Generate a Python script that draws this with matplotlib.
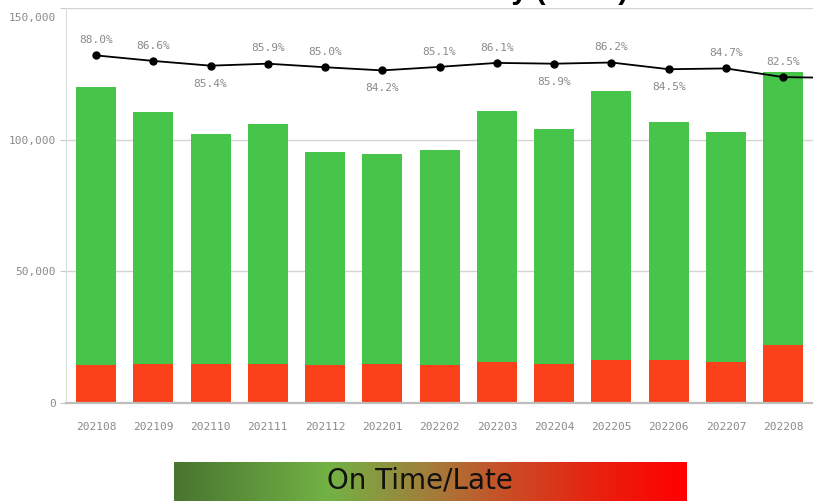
import matplotlib
matplotlib.use("Agg")
import matplotlib.pyplot as plt
import matplotlib.transforms as mtransforms
import numpy as np
from matplotlib.colors import LinearSegmentedColormap

# Monthly delivery counts (on time / late) and on-time rate
months = ["202108", "202109", "202110", "202111", "202112", "202201", "202202",
          "202203", "202204", "202205", "202206", "202207", "202208", "202209"]
late = [14400, 14800, 14900, 14900, 14300, 14900, 14300,
        15400, 14700, 16400, 16500, 15700, 22000, 21500]
on_time = [105600, 95700, 87300, 91100, 81000, 79700, 81800,
           95500, 89300, 102100, 90200, 87200, 103700, 100000]
on_time_pct = [88.0, 86.6, 85.4, 85.9, 85.0, 84.2, 85.1,
               86.1, 85.9, 86.2, 84.5, 84.7, 82.5, 82.3]
y_ticks = [0, 50000, 100000, 150000]

GREEN = "#47c54a"
RED = "#fa4119"
TICK_GREY = "#8a8a8a"
mono = "DejaVu Sans Mono"
XLIM = (-0.524, 12.52)

fig = plt.figure(figsize=(8.13, 5.01), dpi=100)
ax = fig.add_axes([66 / 813, 1 - 403 / 501, 1 - 66 / 813, (403 - 8) / 501])

x = np.arange(len(months))
ax.bar(x, late, width=0.7, color=RED, zorder=2)
ax.bar(x, on_time, width=0.7, bottom=late, color=GREEN, zorder=2)

ax.set_ylim(0, 150000)
ax.set_yticks(y_ticks)
ax.set_yticklabels([f"{v:,}" for v in y_ticks], family=mono, fontsize=8, color=TICK_GREY)
ax.set_xticks(x)
ax.set_xticklabels(months, family=mono, fontsize=8, color=TICK_GREY)
ax.tick_params(axis="x", length=0, pad=14)
ax.tick_params(axis="y", length=4.5, width=0.8, color="#c8c8c8", pad=3)
top_label = ax.get_yticklabels()[-1]
top_label.set_transform(top_label.get_transform() +
                        mtransforms.ScaledTranslation(0, -9 / 100, fig.dpi_scale_trans))
ax.grid(axis="y", color="#d4d4d4", linewidth=1, zorder=0)
ax.set_axisbelow(True)
for side in ("top", "right"):
    ax.spines[side].set_visible(False)
ax.spines["left"].set_color("#dcdcdc")
ax.spines["bottom"].set_color("#bdbdbd")
ax.spines["bottom"].set_linewidth(1.6)

# On-time rate on a hidden secondary scale
ax2 = ax.twinx()
ax2.set_ylim(0, 100)
ax2.axis("off")
ax2.plot(x, on_time_pct, color="black", linewidth=1.3, marker="o",
         markersize=5, zorder=5)
for i, p in enumerate(on_time_pct):
    prev_p = on_time_pct[i - 1] if i > 0 else p + 1
    next_p = on_time_pct[i + 1] if i < len(on_time_pct) - 1 else p + 1
    below = p < prev_p and p < next_p
    ax2.annotate(f"{p:.1f}%", (i, p), xytext=(0, -13 if below else 11),
                 textcoords="offset points", ha="center", va="center",
                 family=mono, fontsize=8, color="#8a8a8a", annotation_clip=True)

ax.set_xlim(*XLIM)
ax2.set_xlim(*XLIM)

# Title (its lower edge reaches into the top of the figure)
fig.text(628 / 813, 1 + 1 / 501, "On Time Delivery (Units)", ha="right",
         va="baseline", fontsize=21, fontweight="bold", family="Liberation Sans")

# Gradient legend bar
cmap = LinearSegmentedColormap.from_list(
    "ontime_late",
    [(0.0, "#487530"), (0.30, "#72b245"), (0.50, "#a37d3a"),
     (0.66, "#cc4a25"), (0.85, "#ec1c0c"), (1.0, "#ff0000")])
lax = fig.add_axes([174 / 813, 0, (686 - 174) / 813, 39 / 501])
lax.imshow(np.linspace(0, 1, 256)[None, :], aspect="auto", cmap=cmap,
           extent=(0, 1, 0, 1))
lax.axis("off")
lax.text(0.48, 0.52, "On Time/Late", ha="center", va="center",
         fontsize=20, color="#111111", family="DejaVu Sans")

fig.savefig("out.png", dpi=100)
